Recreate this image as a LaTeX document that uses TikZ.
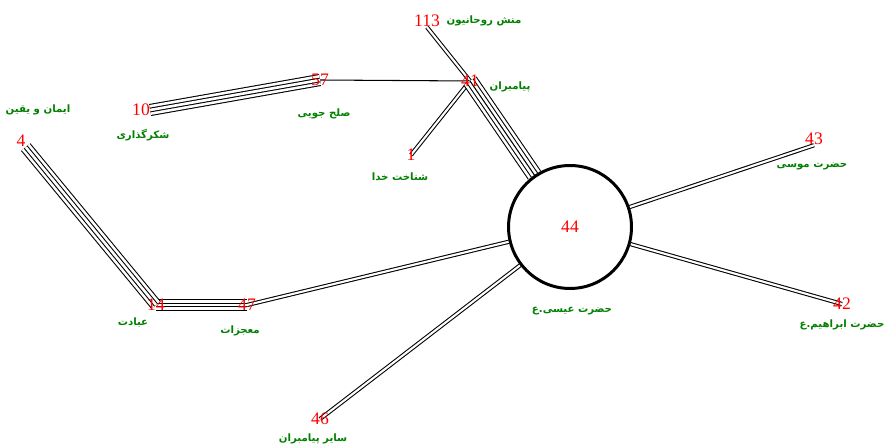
\documentclass[tikz,border=0pt]{standalone}
\usepackage{fontspec}
\usepackage{xcolor}
\usepackage{tikz}
\usetikzlibrary{backgrounds}
\newfontfamily\arabicfont[Script=Arabic]{DejaVu Sans}
\newfontfamily\numfont{Liberation Serif}
\TeXXeTstate=1
\definecolor{topicgreen}{RGB}{0,128,0}
\tikzset{%
  number/.style={%
    text=red,
    inner sep=0pt,
    font=\numfont\fontsize{10}{10}\selectfont
  }
}
\tikzset{%
  topic/.style={%
    text=topicgreen,
    inner sep=0pt,
    font=\arabicfont\bfseries\fontsize{5.8}{7}\selectfont
  }
}
\tikzset{%
  one strand/.style={%
    line width=0.6pt
  }
}
\tikzset{%
  two strands/.style={%
    line width=0.6pt,
    double,
    double distance=1.2pt
  }
}
\tikzset{%
  four strands/.style={%
    line width=6.9pt,
    postaction={draw=white, line width=5.7pt},
    postaction={draw=black, line width=2.7pt},
    postaction={draw=white, line width=1.5pt}
  }
}
\tikzset{%
  five strands/.style={%
    line width=9pt,
    postaction={draw=white, line width=7.8pt},
    postaction={draw=black, line width=4.8pt},
    postaction={draw=white, line width=3.6pt},
    postaction={draw=black, line width=0.6pt}
  }
}
\begin{document}
\begin{tikzpicture}[x=0.02cm, y=-0.02cm]
  \useasboundingbox (0,0) rectangle (884,448);
  % centre
  \node [circle, draw, line width=1.7pt, fill=white, minimum size=2.46cm, number] (n44) at (570,227) {44};
  \node [topic] (t44) at (572,311) {\beginR حضرت عیسی.ع\endR};
  % numbers
  \node [number] (n113) at (427,21) {113};
  \node [number] (n41) at (470,81) {41};
  \node [number] (n57) at (320,80) {57};
  \node [number] (n10) at (141,110) {10};
  \node [number] (n1) at (411,155) {1};
  \node [number] (n4) at (21,141) {4};
  \node [number] (n14) at (156,305) {14};
  \node [number] (n47) at (247,305) {47};
  \node [number] (n43) at (814,139) {43};
  \node [number] (n42) at (842,304) {42};
  \node [number] (n46) at (320,419) {46};
  % topics
  \node [topic] (t113) at (484,21) {\beginR منش روحانیون\endR};
  \node [topic] (t41) at (510,87) {\beginR پیامبران\endR};
  \node [topic] (t57) at (324,114) {\beginR صلح جویی\endR};
  \node [topic] (t10) at (143,135) {\beginR شکرگذاری\endR};
  \node [topic] (t4) at (38,110) {\beginR ایمان و یقین\endR};
  \node [topic] (t1) at (400,177) {\beginR شناخت خدا\endR};
  \node [topic] (t43) at (812,166) {\beginR حضرت موسی\endR};
  \node [topic] (t42) at (842,325) {\beginR حضرت ابراهیم.ع\endR};
  \node [topic] (t14) at (133,323) {\beginR عبادت\endR};
  \node [topic] (t47) at (240,331) {\beginR معجزات\endR};
  \node [topic] (t46) at (313,439) {\beginR سایر پیامبران\endR};
  % links
  \begin{scope}[on background layer]
    \draw [two strands] (n113.south) -- (n41.center);
    \draw [one strand] (n41.center) -- (n57.center);
    \draw [four strands] (n57.center) -- (n10.east);
    \draw [two strands] (n41.center) -- (n1.center);
    \draw [five strands] (n41.center) -- (n44);
    \draw [two strands] (n44) -- (n43.south);
    \draw [two strands] (n44) -- (n42.center);
    \draw [two strands] (n44) -- (n47.center);
    \draw [two strands] (n44) -- (n46.center);
    \draw [four strands] (n47.center) -- (n14.center);
    \draw [four strands] (n14.center) -- (n4.south east);
  \end{scope}
\end{tikzpicture}
\end{document}
